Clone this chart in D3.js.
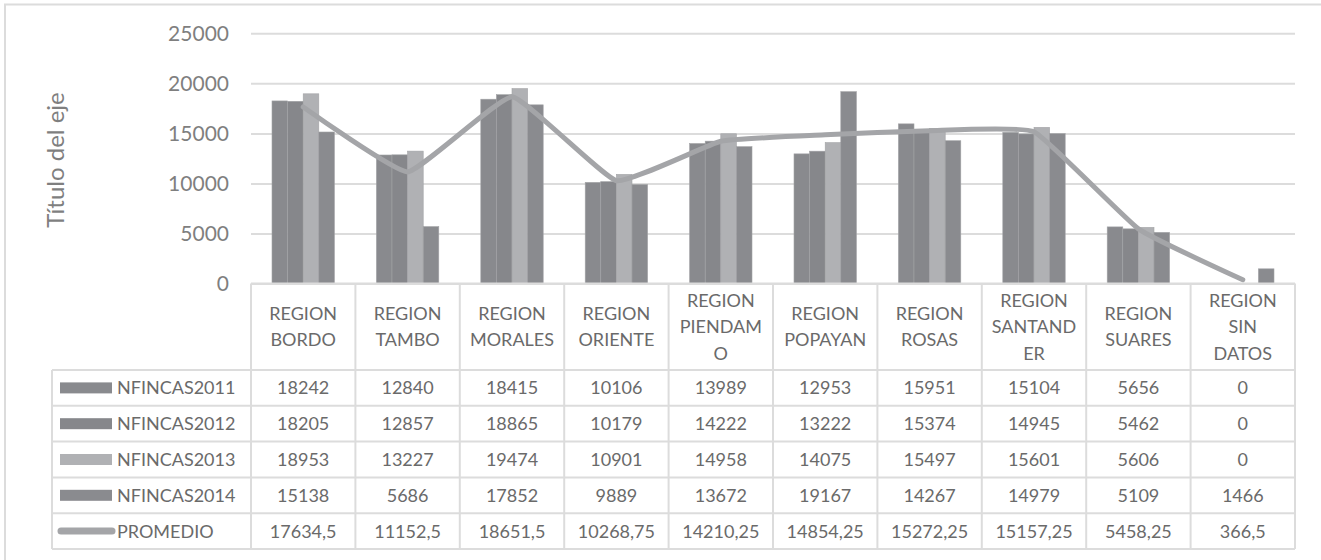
<!DOCTYPE html>
<html lang="es">
<head>
<meta charset="UTF-8">
<script src="https://cdnjs.cloudflare.com/ajax/libs/d3/7.8.5/d3.min.js"></script>
<title>NFINCAS por region</title>
<style>
  body { margin: 0; background: #fff; }
  svg { display: block; font-family: Lato, "Open Sans", sans-serif; }
</style>
</head>
<body>
<div id="chart"></div>
<script>
/* data */
var categories = ["REGION BORDO", "REGION TAMBO", "REGION MORALES", "REGION ORIENTE",
  "REGION PIENDAMO", "REGION POPAYAN", "REGION ROSAS", "REGION SANTANDER",
  "REGION SUARES", "REGION SIN DATOS"];
/* header text as it wraps in the table cells */
var headerLines = [["REGION", "BORDO"], ["REGION", "TAMBO"], ["REGION", "MORALES"],
  ["REGION", "ORIENTE"], ["REGION", "PIENDAM", "O"], ["REGION", "POPAYAN"],
  ["REGION", "ROSAS"], ["REGION", "SANTAND", "ER"], ["REGION", "SUARES"],
  ["REGION", "SIN", "DATOS"]];
var seriesNames = ["NFINCAS2011", "NFINCAS2012", "NFINCAS2013", "NFINCAS2014"];
var nfincas2011 = [18242, 12840, 18415, 10106, 13989, 12953, 15951, 15104, 5656, 0];
var nfincas2012 = [18205, 12857, 18865, 10179, 14222, 13222, 15374, 14945, 5462, 0];
var nfincas2013 = [18953, 13227, 19474, 10901, 14958, 14075, 15497, 15601, 5606, 0];
var nfincas2014 = [15138, 5686, 17852, 9889, 13672, 19167, 14267, 14979, 5109, 1466];
var promedio = [17634.5, 11152.5, 18651.5, 10268.75, 14210.25, 14854.25, 15272.25, 15157.25, 5458.25, 366.5];
var yTicks = [0, 5000, 10000, 15000, 20000, 25000];
var axisTitle = "Título del eje";

var seriesValues = [nfincas2011, nfincas2012, nfincas2013, nfincas2014];
var barColors = ["#898a8e", "#86878b", "#b0b1b4", "#8a8b8f"];
var lineColor = "#a4a5a8";
var gridColor = "#dcdcdc";
var textColor = "#6a6a6a";

var W = 1321, H = 560;
var plotLeft = 251, plotRight = 1295, plotTop = 33.3, plotBottom = 283.5;
var tableLeft = 52;
var headerBottom = 370;
var rowH = 35.8;

var svg = d3.select("#chart").append("svg")
  .attr("width", W).attr("height", H);

/* outer frame (only top and left edges are visible) */
svg.append("path")
  .attr("d", "M5," + H + "V4.5H" + W)
  .attr("fill", "none").attr("stroke", gridColor).attr("stroke-width", 2);

var x = d3.scaleBand().domain(categories).range([plotLeft, plotRight]);
var groupW = 62.4;
var xs = d3.scaleBand().domain(seriesNames).range([0, groupW]);
var y = d3.scaleLinear().domain([0, 25000]).range([plotBottom, plotTop]);

/* gridlines + tick labels */
var yAxis = d3.axisLeft(y).tickValues(yTicks).tickFormat(d3.format("d"))
  .tickSize(-(plotRight - plotLeft)).tickPadding(22);
var gy = svg.append("g").attr("transform", "translate(" + plotLeft + ",0)").call(yAxis);
gy.select(".domain").remove();
gy.selectAll(".tick line").attr("stroke", gridColor).attr("stroke-width", 2);
gy.selectAll(".tick text").attr("fill", "#7f7f7f").attr("font-size", 21)
  .attr("font-family", "Lato, sans-serif");

/* axis title */
svg.append("text")
  .attr("transform", "translate(64,160) rotate(-90)")
  .attr("text-anchor", "middle")
  .attr("fill", "#7f7f7f").attr("font-size", 24)
  .text(axisTitle);

/* bars */
var offset = (x.bandwidth() - groupW) / 2;
seriesValues.forEach(function(vals, s) {
  svg.append("g").selectAll("rect")
    .data(vals)
    .join("rect")
    .attr("x", function(d, i) { return x(categories[i]) + offset + xs(seriesNames[s]); })
    .attr("y", function(d) { return y(d); })
    .attr("width", xs.bandwidth())
    .attr("height", function(d) { return plotBottom - y(d); })
    .attr("fill", barColors[s])
    .attr("stroke", "#a2a3a6").attr("stroke-width", 0.6);
});

/* promedio line */
var line = d3.line()
  .x(function(d, i) { return x(categories[i]) + x.bandwidth() / 2; })
  .y(function(d) { return y(d); })
  .curve(d3.curveCardinal.tension(0.65));
svg.append("path")
  .datum(promedio)
  .attr("d", line)
  .attr("fill", "none").attr("stroke", lineColor).attr("stroke-width", 5)
  .attr("stroke-linecap", "round").attr("stroke-linejoin", "round");

/* data table */
var tbl = svg.append("g").attr("stroke", gridColor).attr("stroke-width", 2);
var nRows = seriesNames.length + 1;
var tableBottom = headerBottom + nRows * rowH;
// horizontal rules
tbl.append("line").attr("x1", plotLeft).attr("x2", plotRight)
  .attr("y1", plotBottom).attr("y2", plotBottom);
for (var r = 0; r <= nRows; r++) {
  var yy = headerBottom + r * rowH;
  tbl.append("line").attr("x1", tableLeft).attr("x2", plotRight).attr("y1", yy).attr("y2", yy);
}
// vertical rules
tbl.append("line").attr("x1", tableLeft).attr("x2", tableLeft)
  .attr("y1", headerBottom).attr("y2", tableBottom);
categories.concat([null]).forEach(function(c) {
  var xx = c ? x(c) : plotRight;
  tbl.append("line").attr("x1", xx).attr("x2", xx).attr("y1", plotBottom).attr("y2", tableBottom);
});

// header cells
var headerMid = (plotBottom + headerBottom) / 2;
var lineGap = 26.5;
headerLines.forEach(function(lines, i) {
  var cx = x(categories[i]) + x.bandwidth() / 2;
  var y0 = headerMid - (lines.length - 1) * lineGap / 2;
  lines.forEach(function(t, k) {
    svg.append("text")
      .attr("x", cx).attr("y", y0 + k * lineGap)
      .attr("dy", "0.36em")
      .attr("text-anchor", "middle")
      .attr("fill", textColor).attr("font-size", 18)
      .text(t);
  });
});

// rows
var rowNames = seriesNames.concat(["PROMEDIO"]);
var rowValues = seriesValues.concat([promedio]);
rowNames.forEach(function(name, r) {
  var cy = headerBottom + r * rowH + rowH / 2;
  if (r < seriesNames.length) {
    svg.append("rect").attr("x", 60).attr("y", cy - 5.5).attr("width", 52).attr("height", 11)
      .attr("fill", barColors[r]);
  } else {
    svg.append("line").attr("x1", 61).attr("x2", 112).attr("y1", cy).attr("y2", cy)
      .attr("stroke", lineColor).attr("stroke-width", 7).attr("stroke-linecap", "round");
  }
  svg.append("text")
    .attr("x", 117).attr("y", cy).attr("dy", "0.36em")
    .attr("fill", textColor).attr("font-size", 18)
    .text(name);
  svg.append("g").selectAll("text")
    .data(rowValues[r])
    .join("text")
    .attr("x", function(d, i) { return x(categories[i]) + x.bandwidth() / 2; })
    .attr("y", cy).attr("dy", "0.36em")
    .attr("text-anchor", "middle")
    .attr("fill", textColor).attr("font-size", 18)
    .text(function(d) { return String(d).replace(".", ","); });
});
</script>
</body>
</html>
